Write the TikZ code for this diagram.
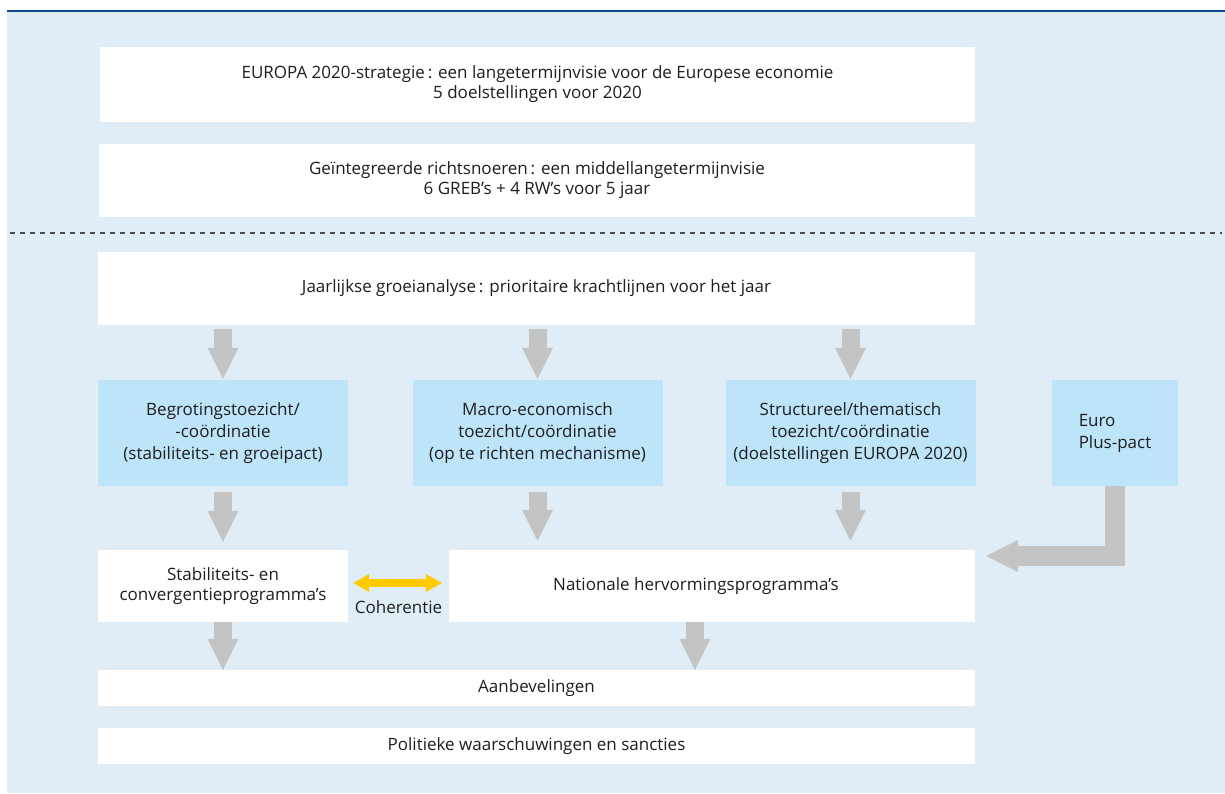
\documentclass[tikz,border=0pt]{standalone}
\usepackage{fontspec}
\setmainfont{Open Sans}
\usepackage{tikz}
\usetikzlibrary{arrows.meta}

\definecolor{bgblue}{RGB}{224,237,246}
\definecolor{boxblue}{RGB}{189,228,249}
\definecolor{topblue}{RGB}{13,74,140}
\definecolor{arrgray}{RGB}{196,196,196}
\definecolor{cohyellow}{RGB}{255,202,0}
\definecolor{txt}{RGB}{30,30,30}

\begin{document}
\begin{tikzpicture}[x=1pt,y=-1pt,
    font=\fontsize{17}{20}\selectfont,
    box/.style={fill=white,text=txt,inner sep=0pt,align=center},
    bluebox/.style={box,fill=boxblue,minimum width=250,minimum height=106,
        font=\fontsize{17}{22}\selectfont},
    flow/.style={arrgray,line width=18pt,-{Triangle[width=31pt,length=31pt,line width=0pt]}},
    coh/.style={cohyellow,line width=8pt,
        {Triangle[width=18pt,length=16pt,line width=0pt]}-{Triangle[width=18pt,length=16pt,line width=0pt]}}]
    \useasboundingbox (0,0) rectangle (1225,793);
    % Background and frame
    \fill[bgblue] (7,11) rectangle (1225,793);
    \draw[topblue,line width=2.5pt] (7,11) -- (1225,11);

    % Long term
    \node[box,minimum width=875,minimum height=75] (europa) at (537.5,84.5)
        {EUROPA 2020-strategie\,: een langetermijnvisie voor de Europese economie\\5 doelstellingen voor 2020};
    \node[box,minimum width=876,minimum height=73] (richt) at (537,180.5)
        {Geïntegreerde richtsnoeren\,: een middellangetermijnvisie\\6 GREB’s + 4 RW’s voor 5 jaar};
    \draw[txt!80,line width=1.3pt,dash pattern=on 5pt off 5pt] (10,233) -- (1222,233);

    % Yearly cycle
    \node[box,minimum width=877,minimum height=73] (jaar) at (536.5,288.5)
        {Jaarlijkse groeianalyse\,: prioritaire krachtlijnen voor het jaar};
    \node[bluebox] (begr) at (223,433) {Begrotingstoezicht/\\-coördinatie\\(stabiliteits- en groeipact)};
    \node[bluebox] (macro) at (537.5,433) {Macro-economisch\\toezicht/coördinatie\\(op te richten mechanisme)};
    \node[bluebox] (struct) at (850.5,433) {Structureel/thematisch\\toezicht/coördinatie\\(doelstellingen EUROPA 2020)};
    \node[bluebox,minimum width=126,align=left] (euro) at (1115,433) {Euro\\Plus-pact};

    \node[box,minimum width=250,minimum height=72] (stab) at (223,586) {Stabiliteits- en\\convergentieprogramma’s};
    \node[box,minimum width=526,minimum height=72] (nat) at (712,586) {\hspace*{-32pt}Nationale hervormingsprogramma’s};
    \node[box,minimum width=877,minimum height=36] (aanb) at (536.5,688) {Aanbevelingen};
    \node[box,minimum width=877,minimum height=36] (pol) at (536.5,746) {Politieke waarschuwingen en sancties};

    \draw[flow,shorten <=4pt,shorten >=1pt] (begr.north |- jaar.south) -- (begr.north);
    \draw[flow,shorten <=4pt,shorten >=1pt] (macro.north |- jaar.south) -- (macro.north);
    \draw[flow,shorten <=4pt,shorten >=1pt] (struct.north |- jaar.south) -- (struct.north);

    \draw[flow,shorten <=6pt,shorten >=8pt] (begr.south) -- (stab.north);
    \draw[flow,shorten <=6pt,shorten >=9pt] (macro.south) -- (macro.south |- nat.north);
    \draw[flow,shorten <=6pt,shorten >=9pt] (struct.south) -- (struct.south |- nat.north);
    \draw[flow,line width=20pt,-{Triangle[width=32pt,length=32pt,line width=0pt]}]
        (euro.south) |- ([shift={(11,-30)}]nat.east);

    \draw[coh,shorten <=5pt,shorten >=7pt] ([yshift=3pt]stab.east) -- ([yshift=3pt]nat.west)
        node[midway,yshift=-24pt,text=txt] {Coherentie};

    \draw[flow] (stab.south) -- (stab.south |- aanb.north);
    \draw[flow] ([xshift=-17pt]nat.south) -- ([xshift=-17pt]nat.south |- aanb.north);
\end{tikzpicture}
\end{document}
